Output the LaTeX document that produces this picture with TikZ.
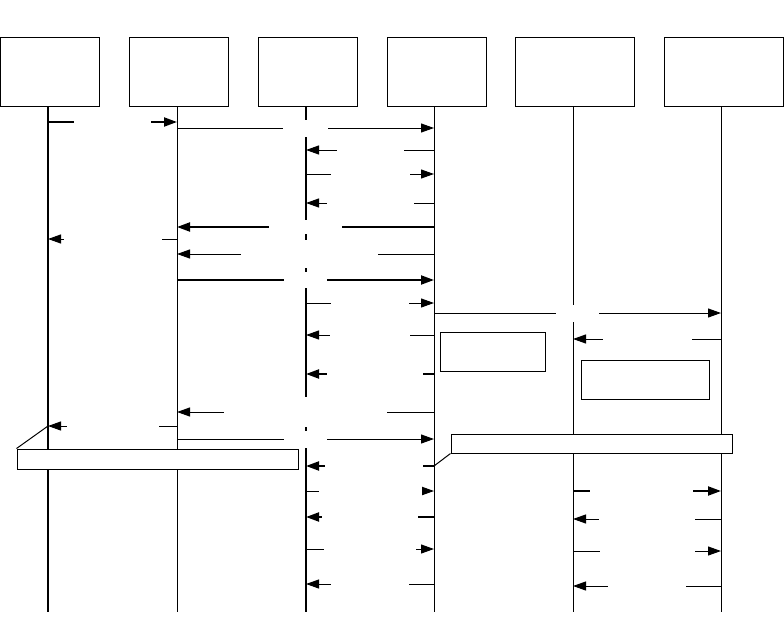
\documentclass[tikz,border=0pt]{standalone}
\usetikzlibrary{arrows.meta}

\begin{document}
\begin{tikzpicture}[x=1pt,y=-1pt,
  obj/.style={draw,line width=1pt,minimum height=69pt,inner sep=0pt},
  life/.style={line width=1pt},
  lifethick/.style={line width=2pt},
  msg/.style={line width=1pt,-{Triangle[length=13pt,width=9pt]}},
  msgthick/.style={msg,line width=2pt},
  lblgap/.style={fill=white,inner sep=0pt,minimum width=#1,minimum height=16pt},
  note/.style={draw,fill=white,line width=1pt,inner sep=0pt}]
\useasboundingbox (0,0) rectangle (784,643);

% objects
\node[obj,minimum width=99pt] (h1) at (49.5,71.5) {};
\node[obj,minimum width=99pt] (h2) at (178.5,71.5) {};
\node[obj,minimum width=99pt] (h3) at (308,71.5) {};
\node[obj,minimum width=99pt] (h4) at (436.5,71.5) {};
\node[obj,minimum width=119pt] (h5) at (574.5,71.5) {};
\node[obj,minimum width=119pt] (h6) at (723.5,71.5) {};

% lifelines
\coordinate (l1) at (48,106);  \coordinate (e1) at (48,612);
\coordinate (l2) at (177,106); \coordinate (e2) at (177,612);
\coordinate (l3) at (306,106); \coordinate (e3) at (306,612);
\coordinate (l4) at (434,106); \coordinate (e4) at (434,612);
\coordinate (l5) at (573,106); \coordinate (e5) at (573,612);
\coordinate (l6) at (721,106); \coordinate (e6) at (721,612);
\draw[lifethick] (l1) -- (e1);
\draw[life] (l2) -- (e2);
\draw[lifethick] (l3) -- (e3);
\draw[life] (l4) -- (e4);
\draw[life] (l5) -- (e5);
\draw[life] (l6) -- (e6);

% messages
\draw[msgthick] (l1 |- 0,122) -- node[lblgap=77pt]{} (l2 |- 0,122);
\draw[msg] (l2 |- 0,128) -- node[lblgap=45pt,minimum height=17pt]{} (l4 |- 0,128);
\draw[msg] (l4 |- 0,150) -- node[lblgap=67pt]{} (l3 |- 0,150);
\draw[msg] (l3 |- 0,174) -- node[lblgap=79pt]{} (l4 |- 0,174);
\draw[msg] (l4 |- 0,203) -- node[lblgap=87pt]{} (l3 |- 0,203);
\draw[msgthick] (l4 |- 0,227) -- node[lblgap=73pt,minimum height=14pt]{} (l2 |- 0,227);
\draw[msg] (l2 |- 0,239) -- node[lblgap=98pt]{} (l1 |- 0,239);
\draw[msg] (l4 |- 0,254) -- node[lblgap=137pt,minimum height=28pt,xshift=4pt]{} (l2 |- 0,254);
\draw[msgthick] (l2 |- 0,280) -- node[lblgap=43pt]{} (l4 |- 0,280);
\draw[msg] (l3 |- 0,303) -- node[lblgap=78pt]{} (l4 |- 0,303);
\draw[msg] (l4 |- 0,313) -- node[lblgap=43pt,minimum height=17pt]{} (l6 |- 0,313);
\draw[msg] (l4 |- 0,335) -- node[lblgap=80pt]{} (l3 |- 0,335);
\draw[msg] (l6 |- 0,339) -- node[lblgap=89pt]{} (l5 |- 0,339);
\draw[msgthick] (l4 |- 0,374) -- node[lblgap=96pt,xshift=5pt]{} (l3 |- 0,374);
\draw[msg] (l4 |- 0,412) -- node[lblgap=163pt,minimum height=30pt]{} (l2 |- 0,412);
\draw[msg] (l2 |- 0,426) -- node[lblgap=92pt]{} (l1 |- 0,426);
\draw[msg] (l2 |- 0,439) -- node[lblgap=43pt,minimum height=17pt]{} (l4 |- 0,439);

% notes
\node[note,minimum width=105pt,minimum height=39pt] (n1) at (492.5,351.5) {};
\node[note,minimum width=128pt,minimum height=39pt] (n2) at (645,379.5) {};
\node[note,minimum width=281pt,minimum height=20pt] (n3) at (157.5,459) {};
\draw[life] (n3.north west) -- (l1 |- 0,426);
\node[note,minimum width=281pt,minimum height=19pt] (n4) at (591.5,443.5) {};
\draw[life] (n4.south west) -- (l4 |- 0,466);

\draw[msgthick] (l4 |- 0,466) -- node[lblgap=98pt,xshift=4pt]{} (l3 |- 0,466);
\draw[msg] (l3 |- 0,491) -- node[lblgap=103pt]{} (l4 |- 0,491);
\draw[msgthick] (l5 |- 0,491) -- node[lblgap=103pt,xshift=-6pt]{} (l6 |- 0,491);
\draw[msgthick] (l4 |- 0,517) -- node[lblgap=96pt]{} (l3 |- 0,517);
\draw[msg] (l6 |- 0,519) -- node[lblgap=96pt]{} (l5 |- 0,519);
\draw[msg] (l3 |- 0,549) -- node[lblgap=92pt]{} (l4 |- 0,549);
\draw[msg] (l5 |- 0,551) -- node[lblgap=95pt]{} (l6 |- 0,551);
\draw[msg] (l4 |- 0,584) -- node[lblgap=78pt]{} (l3 |- 0,584);
\draw[msg] (l6 |- 0,586) -- node[lblgap=78pt]{} (l5 |- 0,586);
\end{tikzpicture}
\end{document}
